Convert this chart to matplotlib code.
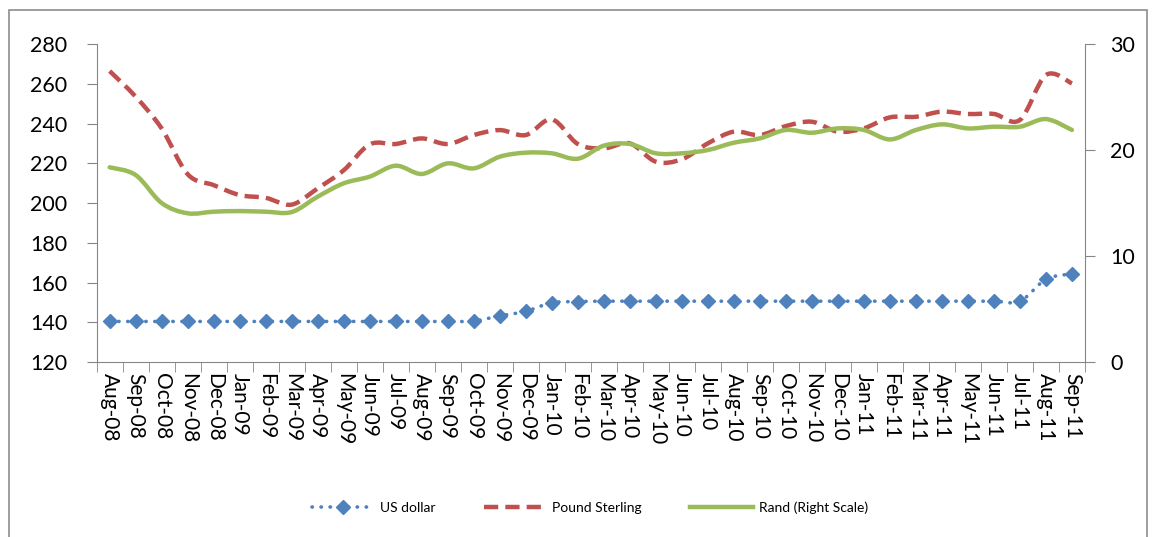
import numpy as np
import matplotlib.pyplot as plt
from matplotlib.path import Path
from matplotlib.patches import PathPatch, Rectangle
from matplotlib.lines import Line2D

plt.rcParams['font.family'] = ['Lato', 'DejaVu Sans']

months = ["Aug-08", "Sep-08", "Oct-08", "Nov-08", "Dec-08", "Jan-09", "Feb-09", "Mar-09",
          "Apr-09", "May-09", "Jun-09", "Jul-09", "Aug-09", "Sep-09", "Oct-09", "Nov-09",
          "Dec-09", "Jan-10", "Feb-10", "Mar-10", "Apr-10", "May-10", "Jun-10", "Jul-10",
          "Aug-10", "Sep-10", "Oct-10", "Nov-10", "Dec-10", "Jan-11", "Feb-11", "Mar-11",
          "Apr-11", "May-11", "Jun-11", "Jul-11", "Aug-11", "Sep-11"]

us_dollar = [140.4, 140.4, 140.4, 140.4, 140.4, 140.4, 140.4, 140.4,
             140.4, 140.4, 140.4, 140.4, 140.4, 140.4, 140.6, 143.2,
             145.5, 149.8, 150.4, 150.6, 150.6, 150.6, 150.6, 150.6,
             150.6, 150.6, 150.6, 150.6, 150.6, 150.6, 150.6, 150.6,
             150.6, 150.6, 150.6, 150.6, 161.6, 164.4]

pound_sterling = [266.4, 253.5, 237.5, 214.5, 209.0, 204.0, 202.6, 199.2,
                  207.4, 216.5, 229.5, 229.7, 232.5, 229.7, 234.2, 236.7,
                  234.2, 242.1, 229.7, 227.5, 230.0, 220.8, 222.0, 230.0,
                  235.9, 234.2, 238.7, 240.9, 235.9, 237.6, 243.1, 243.4,
                  246.0, 244.8, 244.8, 241.8, 264.4, 260.2]

rand = [18.37, 17.64, 15.0, 14.03, 14.18, 14.24, 14.18, 14.15,
        15.6, 16.86, 17.49, 18.52, 17.74, 18.74, 18.27, 19.37,
        19.75, 19.69, 19.18, 20.41, 20.57, 19.69, 19.69, 20.0,
        20.69, 21.1, 21.89, 21.63, 22.04, 21.89, 21.0, 21.89,
        22.42, 22.04, 22.2, 22.2, 22.92, 21.89]


def smooth_path(x, y):
    # Excel-style smoothed line as cubic Bezier segments
    x = np.asarray(x, float)
    y = np.asarray(y, float)
    pts = np.column_stack([x, y])
    n = len(pts)
    verts = [pts[0]]
    codes = [Path.MOVETO]
    for i in range(n - 1):
        p0 = pts[max(i - 1, 0)]
        p1 = pts[i]
        p2 = pts[i + 1]
        p3 = pts[min(i + 2, n - 1)]
        c1 = p1 + (p2 - p0) / 6.0
        c2 = p2 - (p3 - p1) / 6.0
        verts += [c1, c2, p2]
        codes += [Path.CURVE4] * 3
    return Path(verts, codes)


def main():
    fig = plt.figure(figsize=(11.52, 5.37), dpi=100)
    fig.patches.append(Rectangle((9 / 1152, -0.05), 1138 / 1152, 1.05 - 10 / 537,
                                 transform=fig.transFigure, fill=False,
                                 edgecolor="#8c8c8c", linewidth=1.2))

    ax = fig.add_axes([0.0839, 0.3259, 0.8579, 0.5921])
    ax2 = ax.twinx()

    x = np.arange(len(months))
    blue = "#4F81BD"
    red = "#C0504D"
    green = "#9BBB59"

    ax.add_patch(PathPatch(smooth_path(x, pound_sterling), fill=False, edgecolor=red,
                           linewidth=3.2, linestyle=(0, (3.2, 1.6)), capstyle="butt", zorder=3))
    ax.add_patch(PathPatch(smooth_path(x, us_dollar), fill=False, edgecolor=blue,
                           linewidth=2.6, linestyle=(0, (0.1, 2.4)), capstyle="round", zorder=3))
    ax.plot(x, us_dollar, linestyle="none", marker="D", markersize=7.5, color=blue, zorder=4)
    ax2.add_patch(PathPatch(smooth_path(x, rand), fill=False, edgecolor=green,
                            linewidth=3.2, capstyle="round", zorder=3))

    ax.set_xlim(-0.5, len(months) - 0.5)
    ax.set_ylim(120, 280)
    ax.set_yticks(np.arange(120, 281, 20))
    ax2.set_ylim(0, 30)
    ax2.set_yticks([0, 10, 20, 30])

    ax.set_xticks(x)
    ax.set_xticklabels(months, rotation=270, fontsize=15, va="top", ha="center")
    ax.set_xticks(np.arange(-0.5, len(months), 1), minor=True)
    ax.tick_params(axis="x", which="major", length=0, pad=8)
    ax.tick_params(axis="x", which="minor", length=7, color="#868686", direction="out")
    ax.tick_params(axis="y", labelsize=15.5, length=7, color="#868686", pad=14)
    ax2.tick_params(axis="y", labelsize=15.5, length=7, color="#868686", pad=11)

    for a in (ax, ax2):
        for s in a.spines.values():
            s.set_color("#868686")
        a.spines["top"].set_visible(False)
    ax.spines["right"].set_visible(False)
    ax2.spines["left"].set_visible(False)
    ax2.spines["bottom"].set_visible(False)

    handles = [
        Line2D([], [], color=blue, linewidth=2.6, linestyle=(0, (0.1, 2.4)),
               dash_capstyle="round", marker="D", markersize=7.5, markevery=[1]),
        Line2D([], [], color=red, linewidth=3.2, linestyle=(0, (3.2, 1.6))),
        Line2D([], [], color=green, linewidth=3.2),
    ]
    fig.legend(handles, ["US dollar", "Pound Sterling", "Rand (Right Scale)"],
               loc="center", bbox_to_anchor=(0.512, 0.055), ncol=3, frameon=False,
               fontsize=10, handlelength=4.5, columnspacing=3.5, handletextpad=0.4)

    fig.savefig("out.png", dpi=100)


if __name__ == "__main__":
    main()
